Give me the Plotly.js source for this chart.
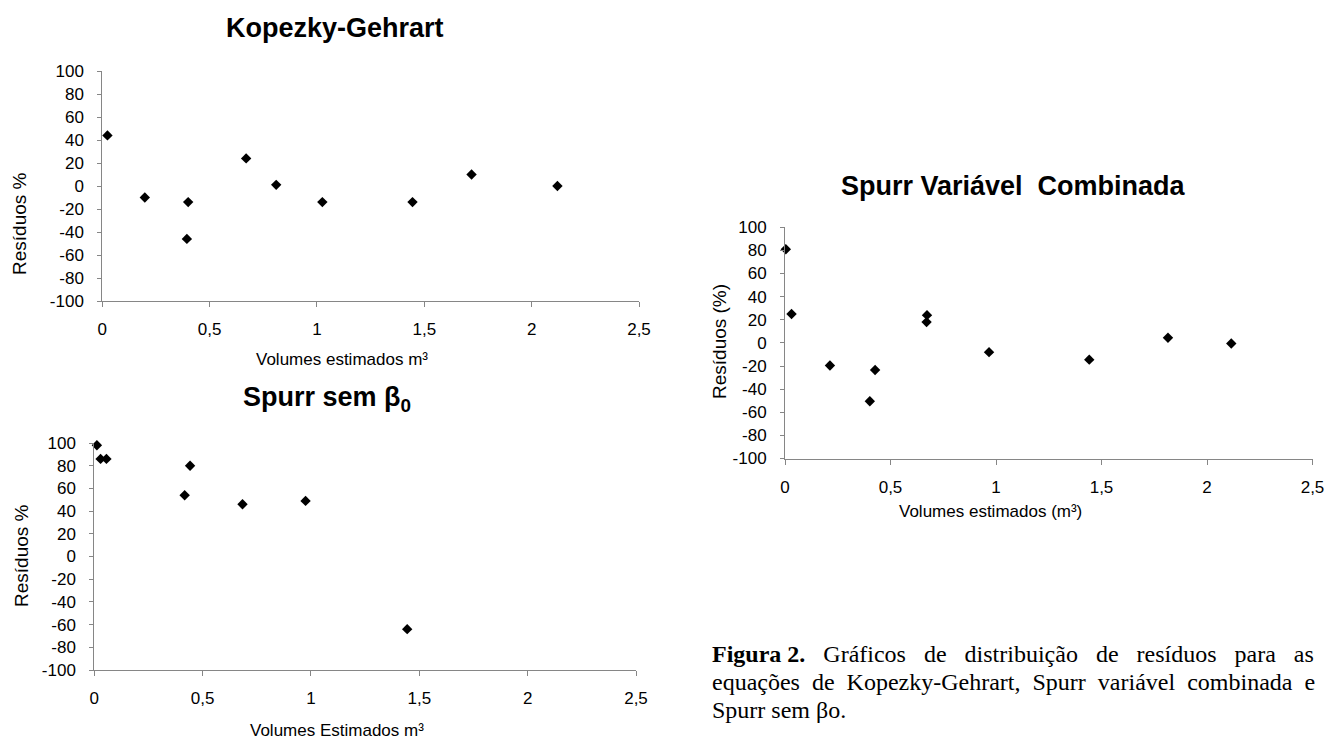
<!DOCTYPE html>
<html>
<head>
<meta charset="utf-8">
<script src="https://cdn.plot.ly/plotly-3.0.1.min.js"></script>
<style>html,body{margin:0;padding:0;background:#fff;}#chart{width:1327px;height:740px;}</style>
</head>
<body>
<div id="chart"></div>
<script>
// ---- Data ----
const kgX = [0.024, 0.198, 0.40, 0.394, 0.67, 0.81, 1.025, 1.445, 1.72, 2.12];
const kgY = [44, -10, -14, -46, 24, 1, -14, -14, 10, 0];

const svcX = [0.004, 0.031, 0.213, 0.427, 0.402, 0.673, 0.671, 0.967, 1.442, 1.815, 2.115];
const svcY = [81, 25, -19.5, -23.5, -50.5, 24, 18, -8, -14.5, 4.5, -0.5];

const ssX = [0.012, 0.029, 0.056, 0.442, 0.417, 0.684, 0.975, 1.444];
const ssY = [98, 86, 86, 80, 54, 46, 49, -64];

const xTickVals = [0, 0.5, 1, 1.5, 2, 2.5];
const xTickText = ['0', '0,5', '1', '1,5', '2', '2,5'];
const yTickVals = [100, 80, 60, 40, 20, 0, -20, -40, -60, -80, -100];
const yTickText = ['100', '80', '60', '40', '20', '0', '-20', '-40', '-60', '-80', '-100'];

const titles = ['Kopezky-Gehrart', 'Spurr Variável  Combinada', 'Spurr sem β<sub>0</sub>'];
const xTitles = ['Volumes estimados m³', 'Volumes estimados (m³)', 'Volumes Estimados m³'];
const yTitles = ['Resíduos %', 'Resíduos (%)', 'Resíduos %'];
const captionLines = [
  '<b>Figura 2.</b>   Gráficos   de   distribuição   de   resíduos   para   as',
  'equações  de  Kopezky-Gehrart,  Spurr  variável  combinada  e',
  'Spurr sem βo.'
];

// ---- Layout helpers ----
const W = 1327, H = 740;
const px = v => v / W;
const py = v => 1 - v / H;

const tickFont = {family: 'Liberation Sans Narrow, Arial Narrow, Liberation Sans, sans-serif', size: 17, color: '#000'};
const axisGray = '#868686';

function xAxis(x0, x1, anchor) {
  return {
    domain: [px(x0), px(x1)], anchor: anchor, range: [0, 2.5],
    tickmode: 'array', tickvals: xTickVals, ticktext: xTickText,
    showline: true, linecolor: axisGray, linewidth: 1,
    ticks: 'outside', ticklen: 5, tickcolor: axisGray, tickwidth: 1,
    ticklabelstandoff: 8,
    showgrid: false, zeroline: false, tickfont: tickFont, fixedrange: true
  };
}
function yAxis(yTop, yBot, anchor) {
  return {
    domain: [py(yBot), py(yTop)], anchor: anchor, range: [-100, 100],
    tickmode: 'array', tickvals: yTickVals, ticktext: yTickText,
    showline: true, linecolor: axisGray, linewidth: 1,
    ticks: 'outside', ticklen: 4, tickcolor: axisGray, tickwidth: 1,
    ticklabelstandoff: 10,
    showgrid: false, zeroline: false, tickfont: tickFont, fixedrange: true
  };
}

const marker = {symbol: 'diamond', size: 8, color: '#000', line: {width: 0}};
const traces = [
  {x: kgX, y: kgY, xaxis: 'x', yaxis: 'y', type: 'scatter', mode: 'markers', marker: marker, cliponaxis: false},
  {x: svcX, y: svcY, xaxis: 'x2', yaxis: 'y2', type: 'scatter', mode: 'markers', marker: marker, cliponaxis: false},
  {x: ssX, y: ssY, xaxis: 'x3', yaxis: 'y3', type: 'scatter', mode: 'markers', marker: marker, cliponaxis: false}
];

function ann(text, x, y, opts) {
  return Object.assign({text: text, xref: 'paper', yref: 'paper', x: px(x), y: py(y),
    showarrow: false, xanchor: 'center', yanchor: 'middle'}, opts);
}
const titleFont = {family: 'Liberation Sans, Arial, sans-serif', size: 27, color: '#000'};
const xtFont = {family: 'Liberation Sans Narrow, Arial Narrow, Liberation Sans, sans-serif', size: 17, color: '#000'};
const ytFont = {family: 'Liberation Sans, Arial, sans-serif', size: 19, color: '#000'};
const capFont = {family: 'Liberation Serif, Times New Roman, serif', size: 24, color: '#000'};

const annotations = [
  ann('<b>' + titles[0] + '</b>', 335, 28, {font: titleFont}),
  ann('<b>' + titles[1] + '</b>', 1013, 186, {font: titleFont}),
  ann('<b>' + titles[2] + '</b>', 327, 399, {font: titleFont}),
  ann(xTitles[0], 342, 359, {font: xtFont}),
  ann(xTitles[1], 990, 511, {font: xtFont}),
  ann(xTitles[2], 337, 730, {font: xtFont}),
  ann(yTitles[0], 19, 224, {font: ytFont, textangle: -90}),
  ann(yTitles[1], 720, 342, {font: ytFont, textangle: -90}),
  ann(yTitles[2], 21, 556, {font: ytFont, textangle: -90}),
  ann(captionLines[0], 710, 654, {font: capFont, xanchor: 'left'}),
  ann(captionLines[1], 710, 682, {font: capFont, xanchor: 'left'}),
  ann(captionLines[2], 710, 710, {font: capFont, xanchor: 'left'})
];

const layout = {
  width: W, height: H,
  margin: {l: 0, r: 0, t: 0, b: 0},
  paper_bgcolor: '#fff', plot_bgcolor: 'rgba(0,0,0,0)',
  showlegend: false,
  xaxis: xAxis(102.3, 639, 'y'),
  yaxis: yAxis(71, 301, 'x'),
  xaxis2: xAxis(785, 1312.5, 'y2'),
  yaxis2: yAxis(227.3, 458.5, 'x2'),
  xaxis3: xAxis(94.3, 636, 'y3'),
  yaxis3: yAxis(443, 670, 'x3'),
  annotations: annotations
};

Plotly.newPlot('chart', traces, layout, {displayModeBar: false, staticPlot: true});
</script>
</body>
</html>
